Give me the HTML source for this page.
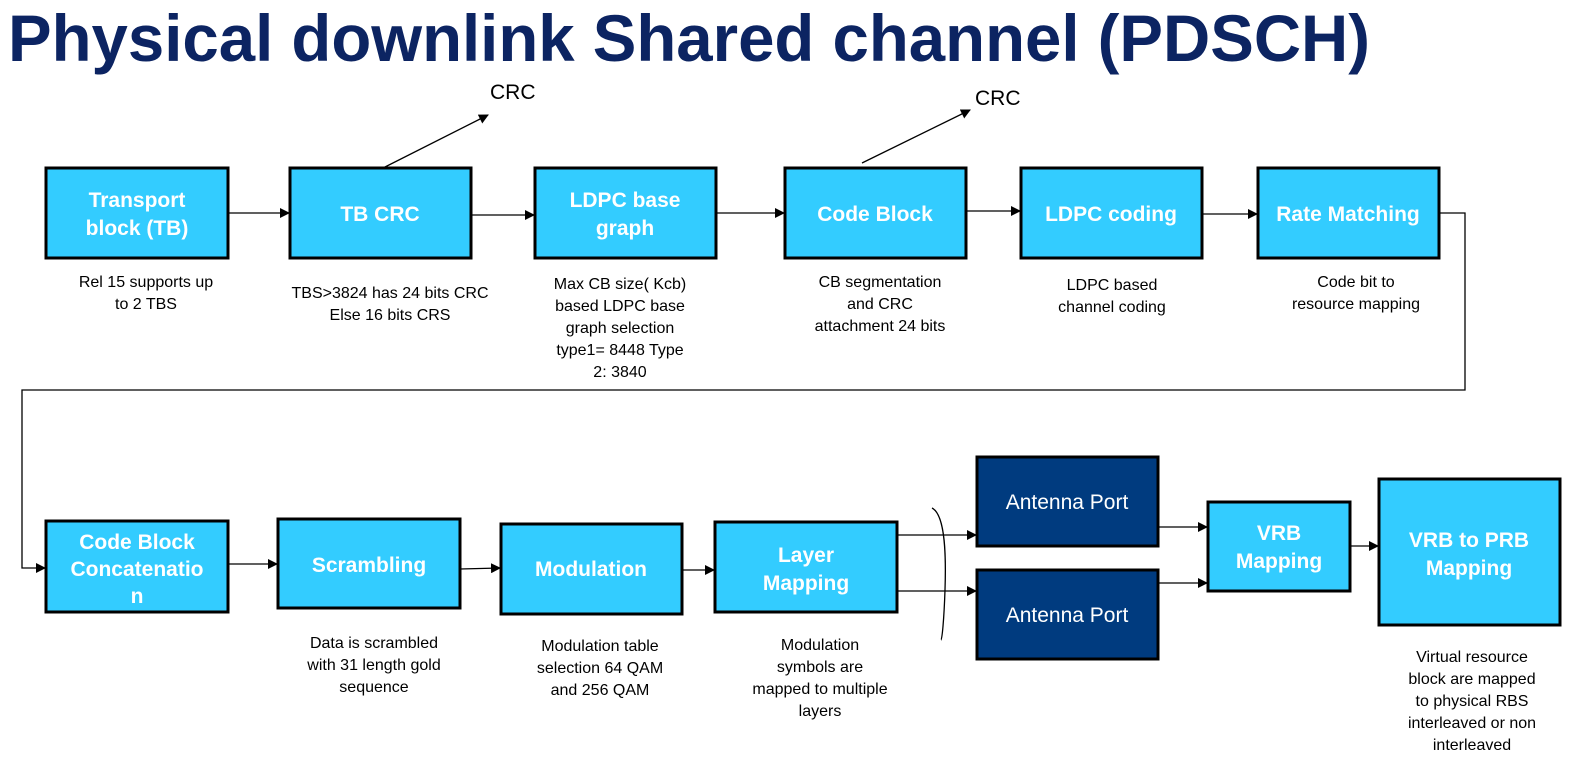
<!DOCTYPE html>
<html><head><meta charset="utf-8"><style>
body{margin:0;background:#fff;}
svg{display:block;font-family:"Liberation Sans",Arial,sans-serif;}
.b{fill:#33ccff;stroke:#000;stroke-width:3;}
.d{fill:#003b7f;stroke:#000;stroke-width:3;}
.bt{fill:#fff;font-weight:bold;font-size:21px;text-anchor:middle;}
.dt{fill:#fff;font-size:21px;text-anchor:middle;}
.l{font-size:16px;text-anchor:middle;fill:#000;}
.c{stroke:#000;stroke-width:1.3;fill:none;}
</style></head><body>
<svg width="1572" height="760" viewBox="0 0 1572 760">
<defs><marker id="a" markerWidth="10" markerHeight="10" refX="9" refY="5" orient="auto" markerUnits="userSpaceOnUse"><path d="M0,0 L10,5 L0,10z" fill="#000"/></marker></defs>
<text x="8" y="61" font-size="66" font-weight="bold" fill="#0c2462" textLength="1362" lengthAdjust="spacingAndGlyphs">Physical downlink Shared channel (PDSCH)</text>

<!-- row 1 boxes -->
<rect class="b" x="46" y="168" width="182" height="90"/>
<text class="bt" x="137" y="207">Transport</text><text class="bt" x="137" y="235">block (TB)</text>
<rect class="b" x="290" y="168" width="181" height="90"/>
<text class="bt" x="380" y="221">TB CRC</text>
<rect class="b" x="535" y="168" width="181" height="90"/>
<text class="bt" x="625" y="207">LDPC base</text><text class="bt" x="625" y="235">graph</text>
<rect class="b" x="785" y="168" width="181" height="90"/>
<text class="bt" x="875" y="221">Code Block</text>
<rect class="b" x="1021" y="168" width="181" height="90"/>
<text class="bt" x="1111" y="221">LDPC coding</text>
<rect class="b" x="1258" y="168" width="181" height="90"/>
<text class="bt" x="1348" y="221">Rate Matching</text>

<!-- row1 labels -->
<text class="l" x="146" y="287">Rel 15 supports up</text><text class="l" x="146" y="309">to 2 TBS</text>
<text class="l" x="390" y="298">TBS&gt;3824 has 24 bits CRC</text><text class="l" x="390" y="320">Else 16 bits CRS</text>
<text class="l" x="620" y="289">Max CB size( Kcb)</text><text class="l" x="620" y="311">based LDPC base</text><text class="l" x="620" y="333">graph selection</text><text class="l" x="620" y="355">type1= 8448 Type</text><text class="l" x="620" y="377">2: 3840</text>
<text class="l" x="880" y="287">CB segmentation</text><text class="l" x="880" y="309">and CRC</text><text class="l" x="880" y="331">attachment 24 bits</text>
<text class="l" x="1112" y="290">LDPC based</text><text class="l" x="1112" y="312">channel coding</text>
<text class="l" x="1356" y="287">Code bit to</text><text class="l" x="1356" y="309">resource mapping</text>

<!-- CRC -->
<text x="490" y="99" font-size="21">CRC</text>
<line class="c" x1="383" y1="168" x2="488" y2="115" marker-end="url(#a)"/>
<text x="975" y="105" font-size="21">CRC</text>
<line class="c" x1="862" y1="163" x2="970" y2="110" marker-end="url(#a)"/>

<!-- row1 connectors -->
<line class="c" x1="228" y1="213" x2="289" y2="213" marker-end="url(#a)"/>
<line class="c" x1="471" y1="215" x2="534" y2="215" marker-end="url(#a)"/>
<line class="c" x1="716" y1="213" x2="784" y2="213" marker-end="url(#a)"/>
<line class="c" x1="966" y1="211" x2="1020" y2="211" marker-end="url(#a)"/>
<line class="c" x1="1202" y1="214" x2="1257" y2="214" marker-end="url(#a)"/>
<polyline class="c" points="1439,213 1465,213 1465,390 22,390 22,568 45,568" marker-end="url(#a)"/>

<!-- row 2 -->
<rect class="b" x="46" y="521" width="182" height="91"/>
<text class="bt" x="137" y="549">Code Block</text><text class="bt" x="137" y="576">Concatenatio</text><text class="bt" x="137" y="603">n</text>
<rect class="b" x="278" y="519" width="182" height="89"/>
<text class="bt" x="369" y="572">Scrambling</text>
<rect class="b" x="501" y="524" width="181" height="90"/>
<text class="bt" x="591" y="576">Modulation</text>
<rect class="b" x="715" y="522" width="182" height="90"/>
<text class="bt" x="806" y="562">Layer</text><text class="bt" x="806" y="590">Mapping</text>
<rect class="d" x="977" y="457" width="181" height="89"/>
<text class="dt" x="1067" y="509">Antenna Port</text>
<rect class="d" x="977" y="570" width="181" height="89"/>
<text class="dt" x="1067" y="622">Antenna Port</text>
<rect class="b" x="1208" y="502" width="142" height="89"/>
<text class="bt" x="1279" y="540">VRB</text><text class="bt" x="1279" y="568">Mapping</text>
<rect class="b" x="1379" y="479" width="181" height="146"/>
<text class="bt" x="1469" y="547">VRB to PRB</text><text class="bt" x="1469" y="575">Mapping</text>

<!-- row2 labels -->
<text class="l" x="374" y="648">Data is scrambled</text><text class="l" x="374" y="670">with 31 length gold</text><text class="l" x="374" y="692">sequence</text>
<text class="l" x="600" y="651">Modulation table</text><text class="l" x="600" y="673">selection 64 QAM</text><text class="l" x="600" y="695">and 256 QAM</text>
<text class="l" x="820" y="650">Modulation</text><text class="l" x="820" y="672">symbols are</text><text class="l" x="820" y="694">mapped to multiple</text><text class="l" x="820" y="716">layers</text>
<text class="l" x="1472" y="662">Virtual resource</text><text class="l" x="1472" y="684">block are mapped</text><text class="l" x="1472" y="706">to physical RBS</text><text class="l" x="1472" y="728">interleaved or non</text><text class="l" x="1472" y="750">interleaved</text>

<!-- row2 connectors -->
<line class="c" x1="228" y1="564" x2="277" y2="564" marker-end="url(#a)"/>
<line class="c" x1="460" y1="569" x2="500" y2="568" marker-end="url(#a)"/>
<line class="c" x1="682" y1="570" x2="714" y2="570" marker-end="url(#a)"/>
<line class="c" x1="897" y1="535" x2="976" y2="535" marker-end="url(#a)"/>
<line class="c" x1="897" y1="591" x2="976" y2="591" marker-end="url(#a)"/>
<path class="c" d="M932,508 C946,515 946,560 945,590 C944,620 942,640 941,640"/>
<line class="c" x1="1158" y1="527" x2="1207" y2="527" marker-end="url(#a)"/>
<line class="c" x1="1158" y1="583" x2="1207" y2="583" marker-end="url(#a)"/>
<line class="c" x1="1350" y1="546" x2="1378" y2="546" marker-end="url(#a)"/>
</svg>
</body></html>
